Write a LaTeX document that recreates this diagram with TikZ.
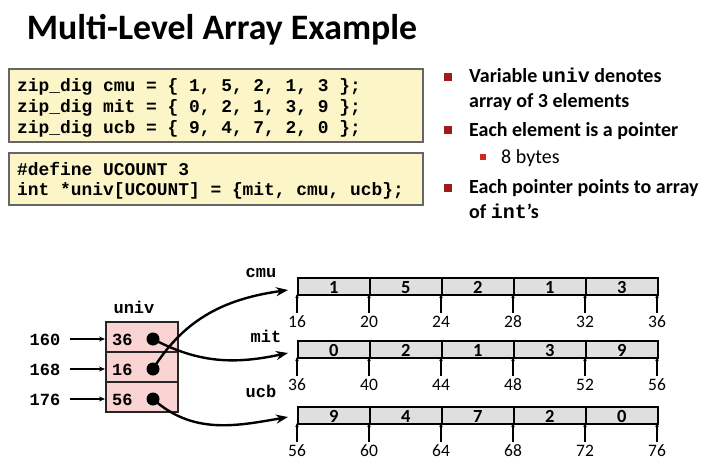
\documentclass[tikz,border=0pt]{standalone}
\usepackage{fontspec}
\setmainfont{Carlito}
\setmonofont{Liberation Mono}
\usetikzlibrary{arrows.meta}

\definecolor{codefill}{HTML}{FBF5C8}
\definecolor{codeline}{HTML}{666666}
\definecolor{cellpink}{HTML}{FAD3D3}
\definecolor{cellgray}{HTML}{DFDFDF}
\definecolor{bulletred}{HTML}{9E1B1B}
\definecolor{subred}{HTML}{D02828}

\tikzset{
  codeframe/.style={draw=codeline, line width=1.4pt, fill=codefill},
  codetext/.style={anchor=base west, inner sep=0pt, font=\ttfamily\bfseries\fontsize{17.9}{20}\selectfont},
  bullettext/.style={anchor=base west, inner sep=0pt, font=\bfseries\fontsize{20}{23}\selectfont},
  bulletbox/.style={fill=bulletred, draw=none, minimum size=8pt, inner sep=0pt},
  subbox/.style={fill=subred, draw=none, minimum size=6pt, inner sep=0pt},
  monolabel/.style={anchor=base, inner sep=0pt, font=\ttfamily\bfseries\fontsize{17}{20}\selectfont},
  univcell/.style={draw=black!85, line width=1.6pt, fill=cellpink, minimum width=72pt, minimum height=30pt, inner sep=0pt, anchor=north west},
  arrcell/.style={draw=black, line width=1.6pt, fill=cellgray, minimum width=72pt, minimum height=17pt, inner sep=0pt, anchor=north west},
  arrval/.style={anchor=base, inner sep=0pt, font=\bfseries\fontsize{18.5}{20}\selectfont},
  addrlabel/.style={anchor=base, inner sep=0pt, font=\fontsize{17.5}{20}\selectfont},
  dot/.style={circle, fill=black, minimum size=13pt, inner sep=0pt},
  tickline/.style={line width=1.6pt, -{Stealth[length=4pt,width=3.5pt]}},
  addrarrow/.style={line width=1.4pt, -{Stealth[length=6pt,width=5pt]}},
  ptr/.style={line width=2.4pt, -{Stealth[length=12pt,width=9pt]}},
}

\begin{document}
\begin{tikzpicture}[x=1pt, y=-1pt]
\useasboundingbox (0,0) rectangle (709,468);

% title
\node[font=\bfseries\fontsize{35.8}{40}\selectfont, inner sep=0pt] (title) at (222,30) {Multi-Level Array Example};

% code listings
\draw[codeframe] (9,69) rectangle (423,142);
\node[codetext] (c1) at (17,92) {zip\_dig cmu = \{ 1, 5, 2, 1, 3 \};};
\node[codetext] (c2) at (17,113) {zip\_dig mit = \{ 0, 2, 1, 3, 9 \};};
\node[codetext] (c3) at (17,134) {zip\_dig ucb = \{ 9, 4, 7, 2, 0 \};};

\draw[codeframe] (9,153) rectangle (423,205);
\node[codetext] (d1) at (17,175) {\#define UCOUNT 3};
\node[codetext] (d2) at (17,195) {int *univ[UCOUNT] = \{mit, cmu, ucb\};};

% bullet list
\node[bulletbox] (b1) at (447.5,77.5) {};
\node[bullettext] (t1) at (469,83) {Variable {\ttfamily\bfseries univ} denotes};
\node[bullettext] (t2) at (469,108) {array of 3 elements};
\node[bulletbox] (b2) at (447.5,130.5) {};
\node[bullettext] (t3) at (469,136) {Each element is a pointer};
\node[subbox] (b3) at (483,157) {};
\node[anchor=base west, inner sep=0pt, font=\fontsize{20}{23}\selectfont] (t4) at (501,164) {8 bytes};
\node[bulletbox] (b4) at (447.5,187.5) {};
\node[bullettext] (t5) at (469,193) {Each pointer points to array};
\node[bullettext] (t6) at (469,218) {of {\ttfamily\bfseries int}’s};

% univ pointer array
\node[monolabel] (univlbl) at (134,313) {univ};
\node[univcell] (u0) at (105,321) {};
\node[univcell] (u1) at (105,351) {};
\node[univcell] (u2) at (105,381) {};
\foreach \i/\v/\a/\yb in {0/36/160/345, 1/16/168/375, 2/56/176/405} {
  \node[monolabel, anchor=base west] (uv\i) at (112,\yb) {\v};
  \node[dot] (dot\i) at (153,\yb-6) {};
  \node[monolabel] (addr\i) at (45,\yb) {\a};
  \draw[addrarrow] ([xshift=9pt]addr\i.east |- dot\i) -- (u\i.west |- dot\i);
}

% int arrays
\foreach \name/\top/\base/\vals in {cmu/277/16/{1,5,2,1,3}, mit/340/36/{0,2,1,3,9}, ucb/406/56/{9,4,7,2,0}} {
  \foreach \v [count=\k from 0] in \vals {
    \node[arrcell] (\name\k) at (297+72*\k,\top) {};
    \node[arrval] at ([yshift=-7.5pt]\name\k.center) {\v};
  }
  \foreach \k in {0,...,5} {
    \pgfmathtruncatemacro{\addr}{\base+4*\k}
    \node[addrlabel] (\name lbl\k) at (297+72*\k,\top+50) {\addr};
    \draw[tickline] (297+72*\k,\top+36) coordinate (\name tick\k) -- (297+72*\k,\top+17);
  }
}

% array names
\node[monolabel] (cmuname) at (261,277) {cmu};
\node[monolabel] (mitname) at (266,342) {mit};
\node[monolabel] (ucbname) at (261,397) {ucb};

% pointer targets just left of each array
\coordinate (cmuin) at (288,290);
\coordinate (mitin) at (288,353);
\coordinate (ucbin) at (288,417);

% pointers from univ entries to arrays
\draw[ptr] (dot1.center) to[out=58, in=188] (cmuin);
\draw[ptr] (dot0.center) to[out=-28, in=192] (mitin);
\draw[ptr] (dot2.center) to[out=-42, in=190] (ucbin);
\end{tikzpicture}
\end{document}
